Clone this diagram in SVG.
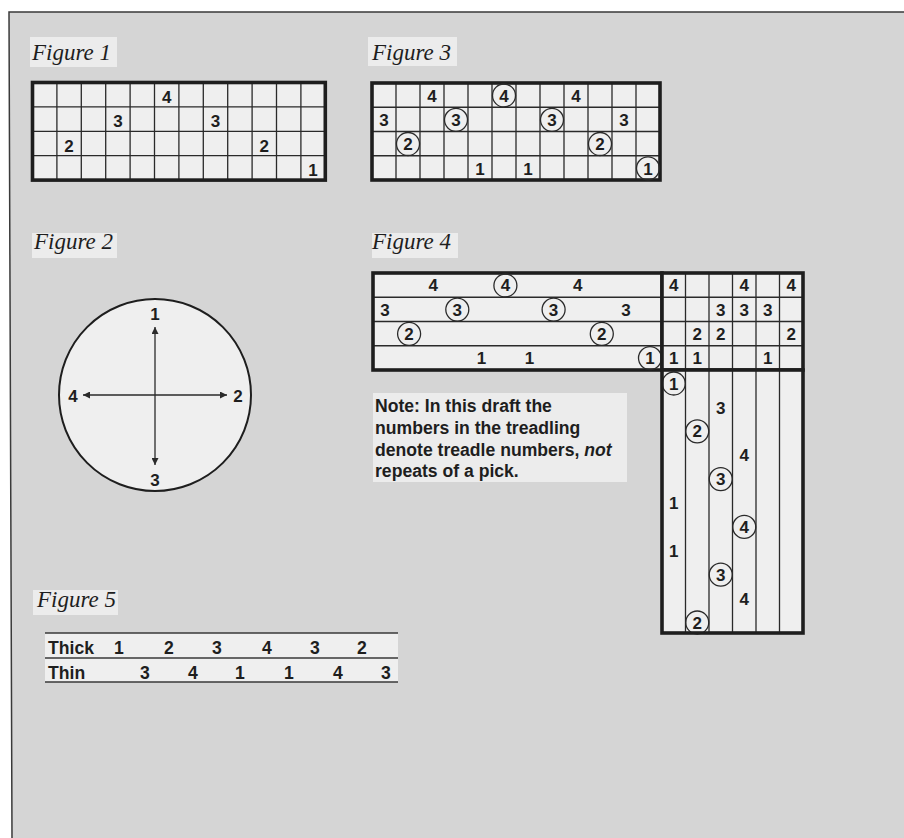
<svg xmlns="http://www.w3.org/2000/svg" width="904" height="838" viewBox="0 0 904 838">
<style>
.lbl{font-family:"Liberation Serif","Times New Roman",serif;font-style:italic;font-size:23px;fill:#1e1e1e}
.lblbg{fill:#ececec}
.cell{fill:#efefef}
.grid{stroke:#2a2a2a;stroke-width:1.3;fill:none}
.frame{stroke:#1e1e1e;stroke-width:3.6;fill:none}
.n{font-family:"Liberation Sans",Arial,sans-serif;font-weight:bold;font-size:17px;fill:#1e1e1e;text-anchor:middle}
.c{fill:none;stroke:#2a2a2a;stroke-width:1.3}
.note{font-family:"Liberation Sans",Arial,sans-serif;font-weight:bold;font-size:17.6px;fill:#1e1e1e}
.row{font-family:"Liberation Sans",Arial,sans-serif;font-weight:bold;font-size:17.6px;fill:#1e1e1e}
.rn{font-family:"Liberation Sans",Arial,sans-serif;font-weight:bold;font-size:17.6px;fill:#1e1e1e;text-anchor:middle}
.ax{stroke:#2a2a2a;stroke-width:1.3;fill:none}
</style>
<defs>
<marker id="ah" viewBox="0 0 10 10" refX="10" refY="5" markerWidth="7" markerHeight="7" markerUnits="userSpaceOnUse" orient="auto-start-reverse">
<path d="M0,0 L10,5 L0,10 Z" fill="#2a2a2a"/>
</marker>
</defs>
<rect x="0" y="0" width="904" height="838" fill="#ffffff"/>
<path d="M9,12 L904,12 L904,838 L12,838 Z" fill="#d5d5d5"/>
<path d="M904,12 L9,12 L12,838" fill="none" stroke="#3a3a3a" stroke-width="1.5"/>

<!-- Figure 1 -->
<g id="figure1">
<rect class="lblbg" x="30" y="37" width="87" height="30"/>
<text class="lbl" x="32" y="60">Figure 1</text>
<rect class="cell" x="32.5" y="82.5" width="292.8" height="97.6"/>
<path class="grid" d="M56.9,82.5V180.1M81.3,82.5V180.1M105.7,82.5V180.1M130.1,82.5V180.1M154.5,82.5V180.1M178.9,82.5V180.1M203.3,82.5V180.1M227.7,82.5V180.1M252.1,82.5V180.1M276.5,82.5V180.1M300.9,82.5V180.1M32.5,106.9H325.3M32.5,131.3H325.3M32.5,155.7H325.3"/>
<rect class="frame" x="32.5" y="82.5" width="292.8" height="97.6"/>
<text class="n" x="166.7" y="103">4</text>
<text class="n" x="117.9" y="127.4">3</text>
<text class="n" x="215.5" y="127.4">3</text>
<text class="n" x="69.1" y="151.8">2</text>
<text class="n" x="264.3" y="151.8">2</text>
<text class="n" x="313.1" y="176">1</text>
</g>

<!-- Figure 3 -->
<g id="figure3">
<rect class="lblbg" x="368" y="37" width="89" height="29"/>
<text class="lbl" x="372" y="60">Figure 3</text>
<rect class="cell" x="372" y="83" width="288" height="97"/>
<path class="grid" d="M396,83V180M420,83V180M444,83V180M468,83V180M492,83V180M516,83V180M540,83V180M564,83V180M588,83V180M612,83V180M636,83V180M372,107.25H660M372,131.5H660M372,155.75H660"/>
<rect class="frame" x="372" y="83" width="288" height="97"/>
<text class="n" x="432" y="101.8">4</text>
<circle class="c" cx="504" cy="95.5" r="11.5"/><text class="n" x="504" y="101.8">4</text>
<text class="n" x="576" y="101.8">4</text>
<text class="n" x="384" y="126.1">3</text>
<circle class="c" cx="456" cy="119.8" r="11.5"/><text class="n" x="456" y="126.1">3</text>
<circle class="c" cx="552" cy="119.8" r="11.5"/><text class="n" x="552" y="126.1">3</text>
<text class="n" x="624" y="126.1">3</text>
<circle class="c" cx="408" cy="144" r="11.5"/><text class="n" x="408" y="150.3">2</text>
<circle class="c" cx="600" cy="144" r="11.5"/><text class="n" x="600" y="150.3">2</text>
<text class="n" x="480" y="174.6">1</text>
<text class="n" x="528" y="174.6">1</text>
<circle class="c" cx="648" cy="168.3" r="11.5"/><text class="n" x="648" y="174.6">1</text>
</g>

<!-- Figure 2 -->
<g id="figure2">
<rect class="lblbg" x="32" y="233" width="85" height="25"/>
<text class="lbl" x="34" y="249">Figure 2</text>
<circle cx="155" cy="395" r="96" fill="#efefef" stroke="#1e1e1e" stroke-width="2"/>
<line class="ax" x1="155" y1="395" x2="155" y2="327" marker-end="url(#ah)"/>
<line class="ax" x1="155" y1="395" x2="155" y2="465" marker-end="url(#ah)"/>
<line class="ax" x1="155" y1="395" x2="83" y2="395" marker-end="url(#ah)"/>
<line class="ax" x1="155" y1="395" x2="227" y2="395" marker-end="url(#ah)"/>
<text class="n" x="155" y="320">1</text>
<text class="n" x="238" y="402">2</text>
<text class="n" x="155" y="486">3</text>
<text class="n" x="73" y="402">4</text>
</g>

<!-- Figure 4 -->
<g id="figure4">
<rect class="lblbg" x="372" y="233" width="86" height="25"/>
<text class="lbl" x="372" y="249">Figure 4</text>
<g id="threading">
<rect class="cell" x="373" y="273" width="289" height="97"/>
<path class="grid" d="M373,297.25H662M373,321.5H662M373,345.75H662"/>
<rect class="frame" x="373" y="273" width="289" height="97"/>
<text class="n" x="433.2" y="291.4">4</text>
<circle class="c" cx="505.4" cy="285.5" r="11.5"/><text class="n" x="505.4" y="291.4">4</text>
<text class="n" x="577.7" y="291.4">4</text>
<text class="n" x="385" y="315.7">3</text>
<circle class="c" cx="457.3" cy="309.6" r="11.5"/><text class="n" x="457.3" y="315.7">3</text>
<circle class="c" cx="553.6" cy="309.6" r="11.5"/><text class="n" x="553.6" y="315.7">3</text>
<text class="n" x="625.9" y="315.7">3</text>
<circle class="c" cx="409.1" cy="333.8" r="11.5"/><text class="n" x="409.1" y="339.9">2</text>
<circle class="c" cx="601.8" cy="333.8" r="11.5"/><text class="n" x="601.8" y="339.9">2</text>
<text class="n" x="481.4" y="364.2">1</text>
<text class="n" x="529.5" y="364.2">1</text>
<circle class="c" cx="650" cy="358.1" r="11.5"/><text class="n" x="650" y="364.2">1</text>
</g>
<g id="tieup">
<rect class="cell" x="662" y="273" width="141" height="97"/>
<path class="grid" d="M685.5,273V370M709,273V370M732.5,273V370M756,273V370M779.5,273V370M662,297.25H803M662,321.5H803M662,345.75H803"/>
<rect class="frame" x="662" y="273" width="141" height="97"/>
<text class="n" x="673.75" y="291.4">4</text>
<text class="n" x="744.25" y="291.4">4</text>
<text class="n" x="791.25" y="291.4">4</text>
<text class="n" x="720.75" y="315.7">3</text>
<text class="n" x="744.25" y="315.7">3</text>
<text class="n" x="767.75" y="315.7">3</text>
<text class="n" x="697.25" y="339.9">2</text>
<text class="n" x="720.75" y="339.9">2</text>
<text class="n" x="791.25" y="339.9">2</text>
<text class="n" x="673.75" y="364.2">1</text>
<text class="n" x="697.25" y="364.2">1</text>
<text class="n" x="767.75" y="364.2">1</text>
</g>
<g id="treadling">
<rect class="cell" x="662" y="370" width="141" height="263"/>
<path class="grid" d="M685.5,370V633M709,370V633M732.5,370V633M756,370V633M779.5,370V633"/>
<circle class="c" cx="673.75" cy="383.5" r="11.5"/><text class="n" x="673.75" y="389.6">1</text>
<text class="n" x="720.75" y="413.5">3</text>
<circle class="c" cx="697.25" cy="431.3" r="11.5"/><text class="n" x="697.25" y="437.4">2</text>
<text class="n" x="744.25" y="461.3">4</text>
<circle class="c" cx="720.75" cy="479.1" r="11.5"/><text class="n" x="720.75" y="485.2">3</text>
<text class="n" x="673.75" y="509.1">1</text>
<circle class="c" cx="744.25" cy="526.9" r="11.5"/><text class="n" x="744.25" y="533">4</text>
<text class="n" x="673.75" y="556.9">1</text>
<circle class="c" cx="720.75" cy="574.7" r="11.5"/><text class="n" x="720.75" y="580.8">3</text>
<text class="n" x="744.25" y="604.7">4</text>
<circle class="c" cx="697.25" cy="622.5" r="11.5"/><text class="n" x="697.25" y="628.6">2</text>
<rect class="frame" x="662" y="370" width="141" height="263"/>
</g>
<g id="note">
<rect x="373" y="393" width="254" height="89" fill="#ececec"/>
<text class="note" x="375" y="412">Note: In this draft the</text>
<text class="note" x="375" y="434">numbers in the treadling</text>
<text class="note" x="375" y="456">denote treadle numbers, <tspan font-style="italic">not</tspan></text>
<text class="note" x="375" y="477">repeats of a pick.</text>
</g>
</g>

<!-- Figure 5 -->
<g id="figure5">
<rect class="lblbg" x="33" y="590" width="85" height="25"/>
<text class="lbl" x="37" y="607">Figure 5</text>
<rect x="45" y="633" width="353" height="49" fill="#efefef"/>
<path d="M45,633H398M45,658H398M45,682H398" stroke="#3a3a3a" stroke-width="1.5" fill="none"/>
<text class="row" x="48" y="654">Thick</text>
<text class="rn" x="119" y="654">1</text>
<text class="rn" x="169" y="654">2</text>
<text class="rn" x="217" y="654">3</text>
<text class="rn" x="267" y="654">4</text>
<text class="rn" x="315" y="654">3</text>
<text class="rn" x="362" y="654">2</text>
<text class="row" x="48" y="679">Thin</text>
<text class="rn" x="145" y="679">3</text>
<text class="rn" x="193" y="679">4</text>
<text class="rn" x="240" y="679">1</text>
<text class="rn" x="289" y="679">1</text>
<text class="rn" x="338" y="679">4</text>
<text class="rn" x="386" y="679">3</text>
</g>
</svg>
